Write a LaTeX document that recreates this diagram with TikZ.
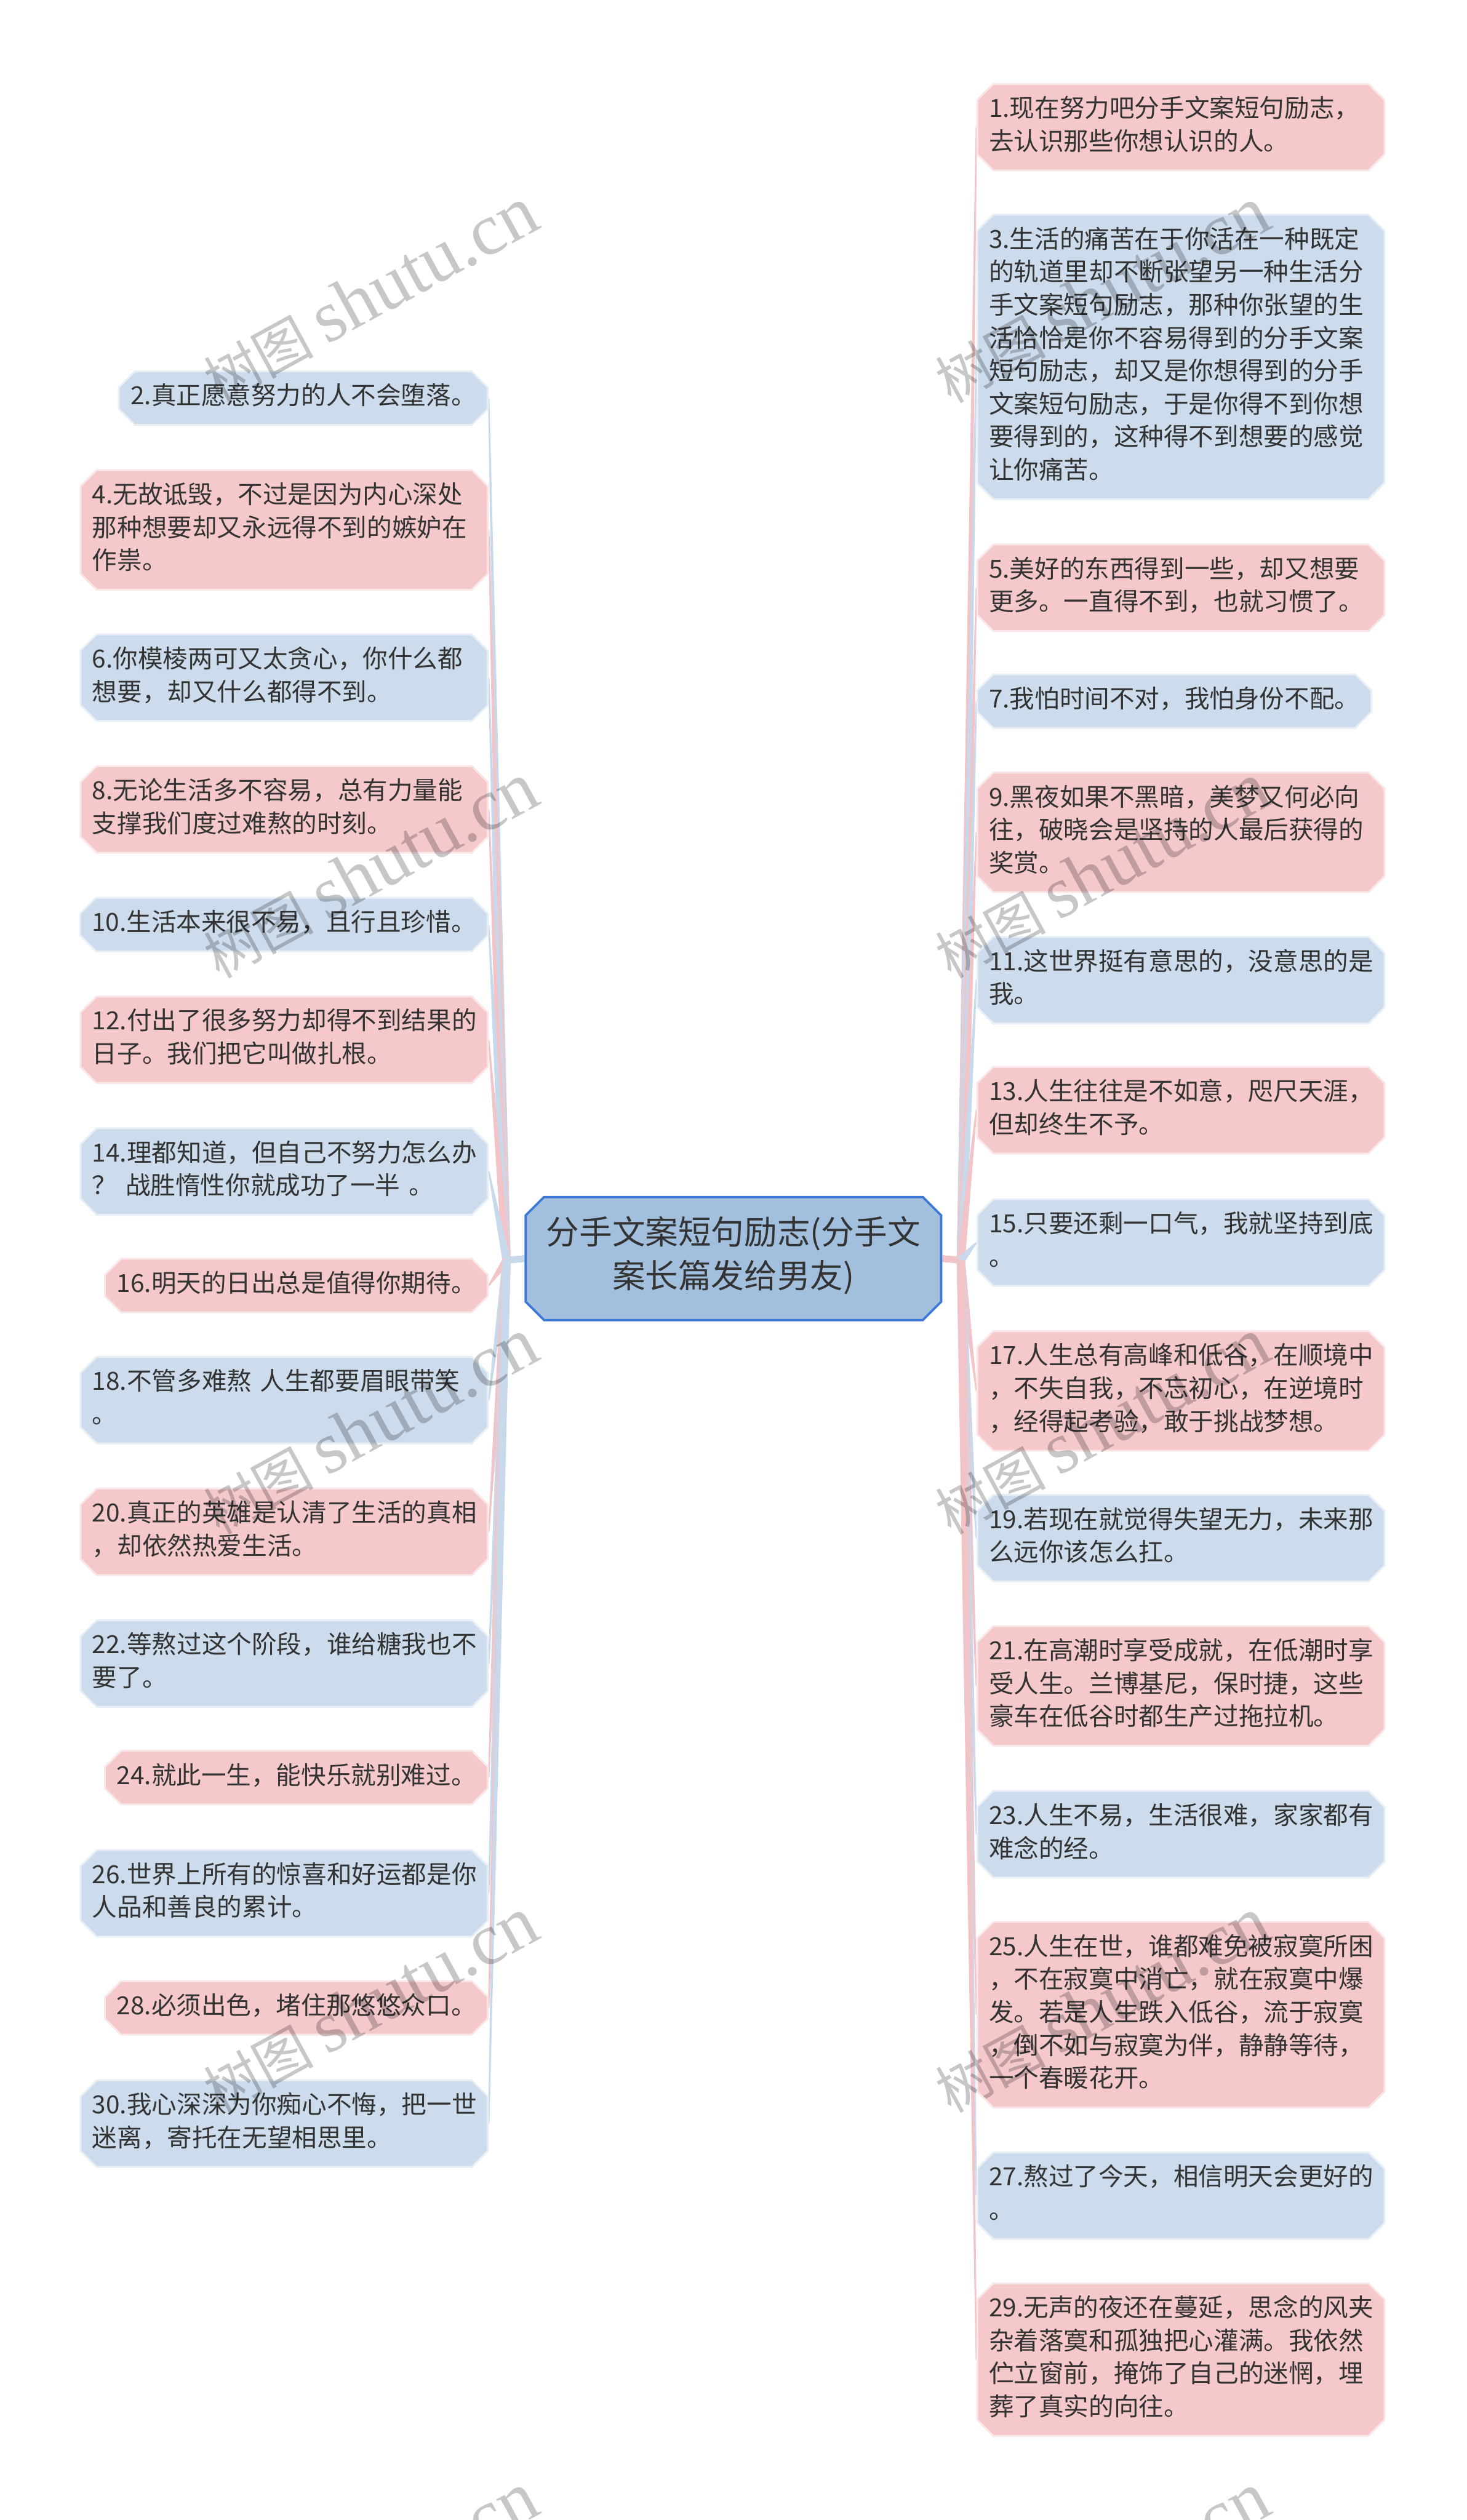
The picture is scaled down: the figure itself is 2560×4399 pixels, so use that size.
\documentclass[tikz,border=0pt]{standalone}
\usepackage{fontspec}
\setmainfont{Noto Sans CJK SC}
\newfontfamily\wmlatin{Liberation Serif}
\usetikzlibrary{shapes.misc,calc,backgrounds}

\definecolor{pinkfill}{HTML}{F5C9CC}
\definecolor{bluefill}{HTML}{CCDCEC}
\definecolor{pinkline}{HTML}{F3C4C7}
\definecolor{blueline}{HTML}{C7D9EA}
\definecolor{rootfill}{HTML}{A2BFDD}
\definecolor{rootdraw}{HTML}{3B78D8}
\definecolor{inktext}{HTML}{333333}

\tikzset{
  leaf/.style={chamfered rectangle, chamfered rectangle xsep=3.5pt,
    chamfered rectangle ysep=3.5pt, inner xsep=1.6pt, inner ysep=1pt,
    line width=0.8pt, text=inktext,
    font=\fontsize{10.9pt}{14.4pt}\selectfont,
    execute at begin node=\strut, execute at end node=\strut},
  pinkleaf/.style={leaf, fill=pinkfill, draw=pinkfill!45!white},
  blueleaf/.style={leaf, fill=bluefill, draw=bluefill!45!white},
  wide/.style={text width=167.5pt, align=left},
  lside/.style={anchor=east},
  rside/.style={anchor=west},
  root/.style={chamfered rectangle, chamfered rectangle xsep=4pt,
    chamfered rectangle ysep=4pt, fill=rootfill, draw=rootdraw,
    line width=1pt, text=inktext, align=center,
    inner xsep=5pt, inner ysep=4.4pt,
    font=\fontsize{14.4pt}{19pt}\selectfont,
    execute at begin node=\strut, execute at end node=\strut},
  watermark/.style={rotate=28.6, text=black, text opacity=0.22,
    font=\fontsize{24pt}{24pt}\selectfont}
}

% tapered branch: wide at the hub, thin at the leaf
\newcommand\branch[3]{%
  \fill[#3] ($(#1)!1.8pt!90:(#2)$) -- ($(#2)!0.3pt!-90:(#1)$)
    -- ($(#2)!0.3pt!90:(#1)$) -- ($(#1)!1.8pt!-90:(#2)$) -- cycle;}

\begin{document}
\begin{tikzpicture}[x=0.25pt, y=-0.25pt]
    \useasboundingbox (0,0) rectangle (2560,4399);

    \node[root] (root) at (1280,2197) {分手文案短句励志(分手文\\案长篇发给男友)};
    \coordinate (hubL) at (884,2200);
    \coordinate (hubR) at (1677,2200);

    % left column
    \node[blueleaf, lside] (n2) at (853,695) {2.真正愿意努力的人不会堕落。};
    \node[pinkleaf, lside, wide] (n4) at (853,925) {4.无故诋毁，不过是因为内心深处\\那种想要却又永远得不到的嫉妒在\\作祟。};
    \node[blueleaf, lside, wide] (n6) at (853,1183) {6.你模棱两可又太贪心，你什么都\\想要，却又什么都得不到。};
    \node[pinkleaf, lside, wide] (n8) at (853,1413) {8.无论生活多不容易，总有力量能\\支撑我们度过难熬的时刻。};
    \node[blueleaf, lside] (n10) at (853,1614) {10.生活本来很不易，且行且珍惜。};
    \node[pinkleaf, lside, wide] (n12) at (853,1815) {12.付出了很多努力却得不到结果的\\日子。我们把它叫做扎根。};
    \node[blueleaf, lside, wide] (n14) at (853,2045) {14.理都知道，但自己不努力怎么办\\？ 战胜惰性你就成功了一半 。};
    \node[pinkleaf, lside] (n16) at (853,2244) {16.明天的日出总是值得你期待。};
    \node[blueleaf, lside, wide] (n18) at (853,2444) {18.不管多难熬 人生都要眉眼带笑\\。};
    \node[pinkleaf, lside, wide] (n20) at (853,2674) {20.真正的英雄是认清了生活的真相\\，却依然热爱生活。};
    \node[blueleaf, lside, wide] (n22) at (853,2904) {22.等熬过这个阶段，谁给糖我也不\\要了。};
    \node[pinkleaf, lside] (n24) at (853,3103) {24.就此一生，能快乐就别难过。};
    \node[blueleaf, lside, wide] (n26) at (853,3305) {26.世界上所有的惊喜和好运都是你\\人品和善良的累计。};
    \node[pinkleaf, lside] (n28) at (853,3505) {28.必须出色，堵住那悠悠众口。};
    \node[blueleaf, lside, wide] (n30) at (853,3707) {30.我心深深为你痴心不悔，把一世\\迷离，寄托在无望相思里。};

    % right column
    \node[pinkleaf, rside, wide] (n1) at (1704,222) {1.现在努力吧分手文案短句励志，\\去认识那些你想认识的人。};
    \node[blueleaf, rside, wide] (n3) at (1704,623) {3.生活的痛苦在于你活在一种既定\\的轨道里却不断张望另一种生活分\\手文案短句励志，那种你张望的生\\活恰恰是你不容易得到的分手文案\\短句励志，却又是你想得到的分手\\文案短句励志，于是你得不到你想\\要得到的，这种得不到想要的感觉\\让你痛苦。};
    \node[pinkleaf, rside, wide] (n5) at (1704,1026) {5.美好的东西得到一些，却又想要\\更多。一直得不到，也就习惯了。};
    \node[blueleaf, rside] (n7) at (1704,1224) {7.我怕时间不对，我怕身份不配。};
    \node[pinkleaf, rside, wide] (n9) at (1704,1453) {9.黑夜如果不黑暗，美梦又何必向\\往，破晓会是坚持的人最后获得的\\奖赏。};
    \node[blueleaf, rside, wide] (n11) at (1704,1711) {11.这世界挺有意思的，没意思的是\\我。};
    \node[pinkleaf, rside, wide] (n13) at (1704,1938) {13.人生往往是不如意，咫尺天涯，\\但却终生不予。};
    \node[blueleaf, rside, wide] (n15) at (1704,2169) {15.只要还剩一口气，我就坚持到底\\。};
    \node[pinkleaf, rside, wide] (n17) at (1704,2428) {17.人生总有高峰和低谷，在顺境中\\，不失自我，不忘初心，在逆境时\\，经得起考验，敢于挑战梦想。};
    \node[blueleaf, rside, wide] (n19) at (1704,2685) {19.若现在就觉得失望无力，未来那\\么远你该怎么扛。};
    \node[pinkleaf, rside, wide] (n21) at (1704,2943) {21.在高潮时享受成就，在低潮时享\\受人生。兰博基尼，保时捷，这些\\豪车在低谷时都生产过拖拉机。};
    \node[blueleaf, rside, wide] (n23) at (1704,3202) {23.人生不易，生活很难，家家都有\\难念的经。};
    \node[pinkleaf, rside, wide] (n25) at (1704,3517) {25.人生在世，谁都难免被寂寞所困\\，不在寂寞中消亡，就在寂寞中爆\\发。若是人生跌入低谷，流于寂寞\\，倒不如与寂寞为伴，静静等待，\\一个春暖花开。};
    \node[blueleaf, rside, wide] (n27) at (1704,3833) {27.熬过了今天，相信明天会更好的\\。};
    \node[pinkleaf, rside, wide] (n29) at (1704,4119) {29.无声的夜还在蔓延，思念的风夹\\杂着落寞和孤独把心灌满。我依然\\伫立窗前，掩饰了自己的迷惘，埋\\葬了真实的向往。};

    \begin{pgfonlayer}{background}
        \fill[white] (0,0) rectangle (2560,4399);
        \draw[blueline, line width=3pt] (root.west) -- (hubL);
        \draw[pinkline, line width=3pt] (root.east) -- (hubR);
        \foreach \n/\c in {n2/blueline, n4/pinkline, n6/blueline, n8/pinkline,
            n10/blueline, n12/pinkline, n14/blueline, n16/pinkline, n18/blueline,
            n20/pinkline, n22/blueline, n24/pinkline, n26/blueline, n28/pinkline,
            n30/blueline}
            \branch{hubL}{\n.east}{\c};
        \foreach \n/\c in {n1/pinkline, n3/blueline, n5/pinkline, n7/blueline,
            n9/pinkline, n11/blueline, n13/pinkline, n15/blueline, n17/pinkline,
            n19/blueline, n21/pinkline, n23/blueline, n25/pinkline, n27/blueline,
            n29/pinkline}
            \branch{hubR}{\n.west}{\c};
    \end{pgfonlayer}

    % watermark
    \foreach \y [count=\i] in {515,1520,2490,3500,4505} {
        \node[watermark] (wmL\i) at (646,\y) {树图 {\wmlatin\fontsize{32pt}{32pt}\selectfont shutu.cn}};
        \node[watermark] (wmR\i) at (1923,\y) {树图 {\wmlatin\fontsize{32pt}{32pt}\selectfont shutu.cn}};
    }
\end{tikzpicture}
\end{document}
